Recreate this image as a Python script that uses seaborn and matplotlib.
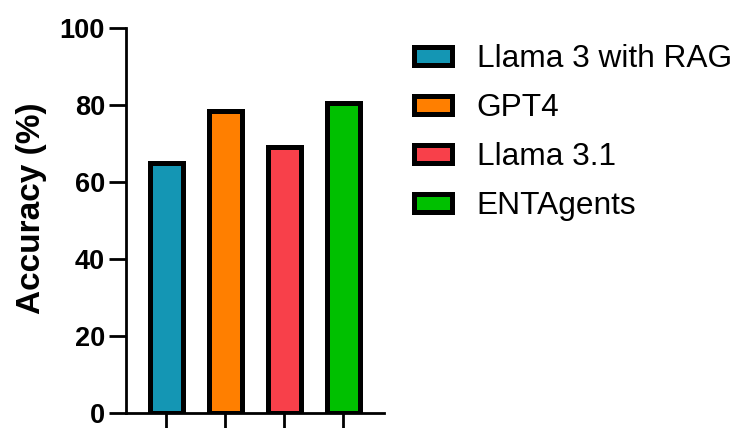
import matplotlib
matplotlib.use("Agg")
import matplotlib.pyplot as plt
import seaborn as sns
import pandas as pd
from matplotlib.patches import Patch

models = ["Llama 3 with RAG", "GPT4", "Llama 3.1", "ENTAgents"]
accuracy = [65.0, 78.5, 69.0, 80.5]
colors = ["#1496B4", "#FF7F00", "#F8404A", "#00C000"]
yticks = [0, 20, 40, 60, 80, 100]

sns.set_theme(style="ticks")
plt.rcParams["font.family"] = ["Liberation Sans", "DejaVu Sans"]
for k in ["text.color", "axes.labelcolor", "xtick.color", "ytick.color", "axes.edgecolor"]:
    plt.rcParams[k] = "black"

df = pd.DataFrame({"model": models, "acc": accuracy})

fig = plt.figure(figsize=(7.32, 4.28), dpi=100)
ax = fig.add_axes([0.172, 0.035, 0.5246 - 0.172, 0.935 - 0.035])

sns.barplot(data=df, x="model", y="acc", hue="model", palette=colors,
            order=models, hue_order=models, dodge=False, width=0.56,
            edgecolor="black", linewidth=3.6, legend=False, ax=ax, saturation=1)

ax.set_ylim(0, 100)
ax.set_xlim(-0.68, 3.69)
ax.set_yticks(yticks)
ax.set_yticklabels([str(v) for v in yticks], fontsize=19.5, fontweight="bold")
ax.set_xticks(range(len(models)))
ax.set_xticklabels([""] * len(models))
ax.set_xlabel("")
ax.set_ylabel("Accuracy (%)", fontsize=24, fontweight="bold")
ax.yaxis.set_label_coords(-0.306, 0.532)

for side in ["top", "right"]:
    ax.spines[side].set_visible(False)
for side in ["left", "bottom"]:
    ax.spines[side].set_linewidth(2.0)
    ax.spines[side].set_color("black")
ax.tick_params(axis="y", length=12, width=2.0, color="black", pad=3)
ax.tick_params(axis="x", length=11, width=2.0, color="black")

handles = [Patch(facecolor=c, edgecolor="black", linewidth=3.6) for c in colors]
fig.legend(handles, models, loc="upper left", bbox_to_anchor=(0.526, 0.963),
           frameon=False, fontsize=22.8, handlelength=1.2, handleheight=0.52,
           handletextpad=0.8, labelspacing=0.6)

fig.savefig("out.png", dpi=100)
